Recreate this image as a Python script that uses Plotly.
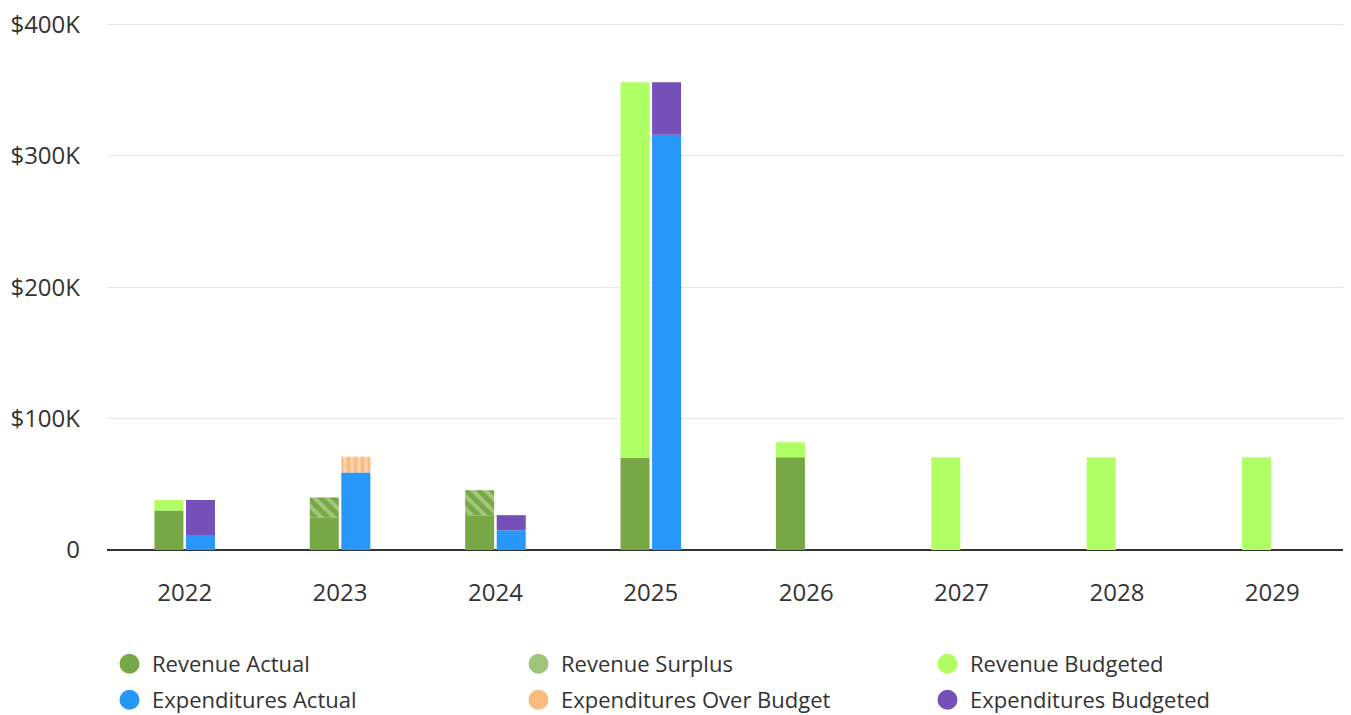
import plotly.graph_objects as go

years = ["2022", "2023", "2024", "2025", "2026", "2027", "2028", "2029"]

revenue_actual = [30000, 25000, 26500, 70000, 70600, 0, 0, 0]
revenue_surplus = [0, 15000, 19000, 0, 0, 0, 0, 0]
revenue_budgeted = [8000, 0, 0, 286000, 11400, 70500, 70500, 70500]

exp_actual = [11400, 59000, 15000, 316000, 0, 0, 0, 0]
exp_over = [0, 12000, 0, 0, 0, 0, 0, 0]
exp_budgeted = [26600, 0, 11500, 40000, 0, 0, 0, 0]

y_ticks = [0, 100000, 200000, 300000, 400000]
y_ticktext = ["0", "$100K", "$200K", "$300K", "$400K"]

C_REV = "#77a845"
C_REV_BUD = "#b0ff64"
C_EXP = "#2897fa"
C_EXP_BUD = "#7450b8"
C_SURPLUS_LIGHT = "#cfe4bb"
C_OVER = "#f7a04f"
C_OVER_LIGHT = "#fdd8b4"

FONT = "Open Sans, Noto Sans, sans-serif"


def stack(*series):
    """累计基线"""
    return [sum(v) for v in zip(*series)]


def nz(vals):
    return [v if v else None for v in vals]


fig = go.Figure()

# 收入柱（左）
fig.add_trace(go.Bar(x=years, y=nz(revenue_actual), offsetgroup="rev",
                     marker=dict(color=C_REV, line=dict(width=0)), showlegend=False))
fig.add_trace(go.Bar(x=years, y=nz(revenue_surplus), base=revenue_actual, offsetgroup="rev",
                     marker=dict(color=C_REV, line=dict(width=0),
                                 pattern=dict(shape="\\", fgcolor=C_SURPLUS_LIGHT, bgcolor=C_REV,
                                              size=9, solidity=0.45)),
                     showlegend=False))
fig.add_trace(go.Bar(x=years, y=nz(revenue_budgeted), base=stack(revenue_actual, revenue_surplus),
                     offsetgroup="rev", marker=dict(color=C_REV_BUD, line=dict(width=0)), showlegend=False))

# 支出柱（右）
fig.add_trace(go.Bar(x=years, y=nz(exp_actual), offsetgroup="exp",
                     marker=dict(color=C_EXP, line=dict(width=0)), showlegend=False))
fig.add_trace(go.Bar(x=years, y=nz(exp_over), base=exp_actual, offsetgroup="exp",
                     marker=dict(color=C_OVER_LIGHT, line=dict(width=0),
                                 pattern=dict(shape="|", fgcolor=C_OVER, bgcolor=C_OVER_LIGHT,
                                              size=7, solidity=0.6)),
                     showlegend=False))
fig.add_trace(go.Bar(x=years, y=nz(exp_budgeted), base=stack(exp_actual, exp_over),
                     offsetgroup="exp", marker=dict(color=C_EXP_BUD, line=dict(width=0)), showlegend=False))

# 图例（圆点）
legend_items = [
    ("Revenue Actual", C_REV, "legend"),
    ("Revenue Surplus", "#9fc47c", "legend"),
    ("Revenue Budgeted", C_REV_BUD, "legend"),
    ("Expenditures Actual", C_EXP, "legend2"),
    ("Expenditures Over Budget", "#fbbb80", "legend2"),
    ("Expenditures Budgeted", C_EXP_BUD, "legend2"),
]
for name, color, lg in legend_items:
    fig.add_trace(go.Scatter(x=[None], y=[None], mode="markers", name=name, legend=lg,
                             marker=dict(symbol="circle", size=16, color=color,
                                         line=dict(width=4, color=color))))

legend_style = dict(orientation="h", xanchor="left", yanchor="middle", x=0.0,
                    entrywidth=359, entrywidthmode="pixels", itemsizing="trace", itemwidth=35,
                    font=dict(family=FONT, size=22, color="#333333"), bgcolor="rgba(0,0,0,0)")

# 页面自带 8px 边距，整体尺寸相应缩小
fig.update_layout(
    width=1343,
    height=707,
    margin=dict(l=99, r=1, t=15, b=165, autoexpand=False),
    paper_bgcolor="white",
    plot_bgcolor="white",
    barmode="group",
    bargap=0.594,
    bargroupgap=0.08,
    font=dict(family=FONT, size=24, color="#333333"),
    legend=dict(y=-0.2163, **legend_style),
    legend2=dict(y=-0.2846, **legend_style),
    xaxis=dict(showgrid=False, showline=False, ticks="", ticklabelstandoff=26,
               tickfont=dict(size=24, color="#333333")),
    yaxis=dict(range=[0, 401000], tickvals=y_ticks, ticktext=y_ticktext,
               showgrid=True, gridcolor="#e6e6e6", gridwidth=1,
               zeroline=True, zerolinecolor="#333333", zerolinewidth=2,
               ticklabeloverflow="allow",
               ticklabelstandoff=26, tickfont=dict(size=24, color="#333333")),
)

fig.write_html("out.html")
